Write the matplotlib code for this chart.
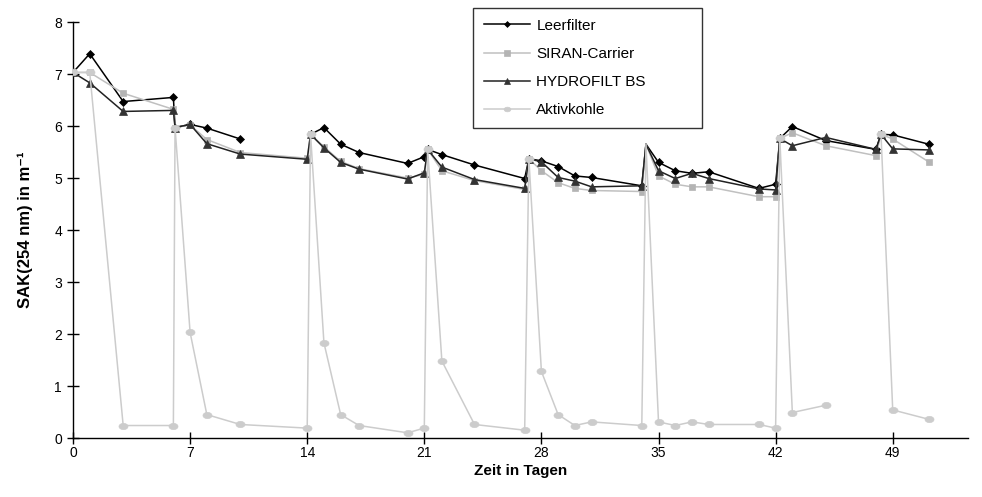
import numpy as np
import matplotlib
matplotlib.use("Agg")
import matplotlib.pyplot as plt

plt.rcParams['font.family'] = ['Liberation Sans', 'DejaVu Sans']

nan = np.nan
days = [0, 1, 3, 6, 6.1, 7, 8, 10, 14, 14.2, 15, 16, 17.1, 20, 21, 21.2, 22.05, 24, 27,
        27.25, 28, 29, 30, 31, 34, 34.25, 35, 36, 37, 38, 41, 42, 42.25, 43, 45, 48,
        48.3, 49, 51.15]

leerfilter = [7.03, 7.39, 6.47, 6.55, 5.97, 6.03, 5.96, 5.75, nan, 5.84, 5.97, 5.65, 5.49,
              5.28, 5.41, 5.55, 5.45, 5.25, 4.99, 5.37, 5.33, 5.22, 5.04, 5.01, 4.85, 5.65,
              5.30, 5.14, 5.09, 5.12, 4.80, 4.88, 5.76, 5.99, 5.72, 5.55, 5.84, 5.83, 5.65]
siran = [7.03, 7.03, 6.63, 6.32, 5.97, 6.02, 5.74, 5.49, 5.38, 5.84, 5.60, 5.32, 5.18,
         5.00, 5.07, 5.55, 5.14, 4.95, 4.78, 5.37, 5.14, 4.91, 4.80, 4.76, 4.74, 5.65,
         5.04, 4.88, 4.83, 4.83, 4.64, 4.64, 5.76, 5.87, 5.62, 5.43, 5.84, 5.75, 5.31]
hydrofilt = [7.03, 6.83, 6.28, 6.30, 5.97, 6.03, 5.66, 5.46, 5.36, 5.84, 5.58, 5.30, 5.17,
             4.98, 5.10, 5.55, 5.21, 4.97, 4.80, 5.37, 5.31, 5.01, 4.94, 4.83, 4.85, 5.65,
             5.14, 4.99, 5.09, 4.99, 4.79, 4.77, 5.76, 5.62, 5.78, 5.55, 5.84, 5.56, 5.54]
aktivkohle = [7.03, 7.03, 0.24, 0.24, 5.97, 2.03, 0.45, 0.26, 0.19, 5.84, 1.83, 0.45, 0.24,
              0.10, 0.19, 5.55, 1.48, 0.26, 0.15, 5.37, 1.28, 0.45, 0.24, 0.31, 0.24, 5.65,
              0.31, 0.24, 0.31, 0.26, 0.26, 0.19, 5.76, 0.49, 0.63, nan, 5.84, 0.54, 0.36]

series_names = ["Leerfilter", "SIRAN-Carrier", "HYDROFILT BS", "Aktivkohle"]
xticks = [0, 7, 14, 21, 28, 35, 42, 49]
yticks = [0, 1, 2, 3, 4, 5, 6, 7, 8]

# points drawn without marker (peak at day 34.25)
no_marker = [25]
mark_idx = [i for i in range(len(days)) if i not in no_marker]

t = np.linspace(0, 2 * np.pi, 40)
ellipse = list(zip(1.45 * np.cos(t), np.sin(t)))

fig = plt.figure(figsize=(9.82, 4.97), dpi=100)
ax = fig.add_axes([73 / 982, 59 / 497, 895 / 982, 416 / 497])

styles = [
    dict(color="black", marker="D", markersize=4, mfc="black", mec="black"),
    dict(color="#c0c0c0", marker="s", markersize=5, mfc="#b4b4b4", mec="#b4b4b4"),
    dict(color="#222222", marker="^", markersize=6, mfc="#333333", mec="#333333"),
    dict(color="#cccccc", marker=ellipse, markersize=6.5, mfc="#cccccc", mec="#cccccc"),
]
data = [leerfilter, siran, hydrofilt, aktivkohle]
handles = []
for i, (name, vals, st) in enumerate(zip(series_names, data, styles)):
    ax.plot(days, vals, linewidth=1.1, markevery=mark_idx,
            markeredgewidth=0.5, zorder=3 + i, **st)
    h, = ax.plot([], [], label=name, linewidth=1.1, markeredgewidth=0.5,
                 **{**st, 'markersize': st['markersize'] * 0.75})
    handles.append(h)

ax.set_xlim(0, 53.5)
ax.set_ylim(0, 8)
ax.set_xticks(xticks)
ax.set_yticks(yticks)
ax.spines['top'].set_visible(False)
ax.spines['right'].set_visible(False)
for sp in ['left', 'bottom']:
    ax.spines[sp].set_linewidth(1.0)
ax.tick_params(direction='inout', length=8, width=1.0, labelsize=10, colors='black')
ax.tick_params(axis='x', pad=2)
ax.tick_params(axis='y', pad=4)

ax.set_xlabel("Zeit in Tagen", fontsize=11, fontweight='bold', labelpad=3)
ax.set_ylabel("SAK(254 nm) in m\u207b\u00b9", fontsize=12, fontweight='bold', labelpad=15)

# legend box: x 473..702 px, y 8..127 px (figure pixels from top)
ax_w, ax_h = 895, 416
x0 = (473 - 73) / ax_w
x1 = (702 - 73) / ax_w
ytop = (438 - 8) / ax_h
ybot = (438 - 127) / ax_h
leg = ax.legend(handles=handles, loc='upper left', bbox_to_anchor=(x0, ybot, x1 - x0, ytop - ybot),
                mode='expand', frameon=True, fancybox=False, edgecolor='black',
                fontsize=11, handlelength=3.0, labelspacing=0.93, borderpad=0.7,
                handletextpad=0.45, borderaxespad=0)
leg.get_frame().set_linewidth(1.0)

fig.savefig("out.png", dpi=100)
